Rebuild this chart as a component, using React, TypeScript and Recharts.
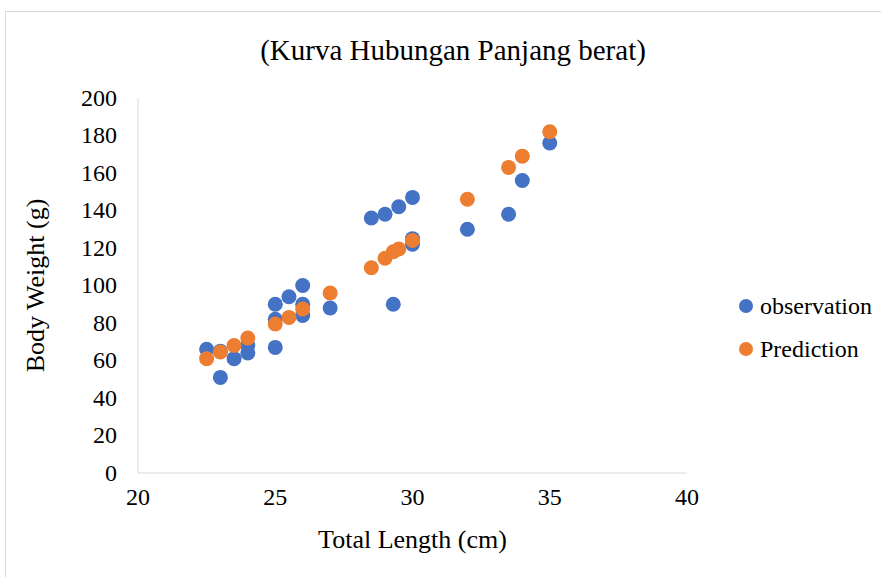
import React from 'react';
import { ScatterChart, Scatter, XAxis, YAxis } from 'recharts';

const obsLength = [22.5, 23, 23, 23.5, 24, 24, 25, 25, 25, 25.5, 26, 26, 26, 27, 28.5, 29, 29.5, 30, 30, 30, 29.3, 32, 33.5, 34, 35];
const obsWeight = [66, 65, 51, 61, 64, 68, 90, 82, 67, 94, 100, 90, 84, 88, 136, 138, 142, 147, 122, 125, 90, 130, 138, 156, 176];

const predLength = [22.5, 23, 23.5, 24, 25, 25.5, 26, 27, 28.5, 29, 29.3, 29.5, 30, 32, 33.5, 34, 35];
const predWeight = [61, 64.5, 68, 72, 79.5, 83, 87.5, 96, 109.5, 114.5, 118, 119.5, 124, 146, 163, 169, 182];

const xTicks = [20, 25, 30, 35, 40];
const yTicks = [0, 20, 40, 60, 80, 100, 120, 140, 160, 180, 200];

const seriesNames = ['observation', 'Prediction'];

const observation = obsLength.map((x, i) => ({ x, y: obsWeight[i] }));
const prediction = predLength.map((x, i) => ({ x, y: predWeight[i] }));

const FONT = '"Liberation Serif", "Times New Roman", serif';
const BLUE = '#4472C4';
const ORANGE = '#ED7D31';
const colors = [BLUE, ORANGE];

const Dot = (props: any) => {
  const { cx, cy, fill } = props;
  return <circle cx={cx} cy={cy} r={7.5} fill={fill} />;
};

const XTick = (props: any) => {
  const { x, y, payload } = props;
  return (
    <text x={x} y={y} dy="0.8em" textAnchor="middle" fill="#000" fontSize={24} fontFamily={FONT}>
      {payload.value}
    </text>
  );
};

const YTick = (props: any) => {
  const { x, y, payload } = props;
  return (
    <text x={x} y={y} dy="0.33em" textAnchor="end" fill="#000" fontSize={24} fontFamily={FONT}>
      {payload.value}
    </text>
  );
};

export default function App() {
  return (
    <div style={{ position: 'absolute', left: 0, top: 0, width: 881, height: 577, overflow: 'hidden', background: '#fff', fontFamily: FONT }}>
      <div style={{ position: 'absolute', left: 5, top: 11, width: 1000, height: 1000, border: '1px solid #d9d9d9' }} />
      <div style={{ position: 'absolute', left: 0, top: 34, width: 906, textAlign: 'center', fontSize: 29, lineHeight: '32px', color: '#000', fontFamily: FONT }}>
        (Kurva Hubungan Panjang berat)
      </div>
      <div style={{ position: 'absolute', left: 0, top: 0 }}>
        <ScatterChart width={881} height={577} margin={{ top: 98, right: 194, bottom: 0, left: 0 }} style={{ fontFamily: FONT }}>
          <XAxis
            type="number"
            dataKey="x"
            domain={[20, 40]}
            ticks={xTicks}
            interval={0}
            height={104}
            tickSize={0}
            tickMargin={13}
            stroke="#d9d9d9"
            tick={<XTick />}
            label={{ value: 'Total Length (cm)', position: 'insideBottom', offset: 29, fill: '#000', fontSize: 26, fontFamily: FONT }}
          />
          <YAxis
            type="number"
            dataKey="y"
            domain={[0, 200]}
            ticks={yTicks}
            interval={0}
            width={138}
            tickSize={0}
            tickMargin={21}
            stroke="#d9d9d9"
            tick={<YTick />}
            label={(p: any) => {
              const vb = p.viewBox || { x: 0, y: 98, width: 138, height: 375 };
              const cy = vb.y + vb.height / 2;
              return (
                <text x={35} y={cy} transform={`rotate(-90, 35, ${cy})`} textAnchor="middle" dominantBaseline="central" fill="#000" fontSize={26} fontFamily={FONT}>
                  Body Weight (g)
                </text>
              );
            }}
          />
          <Scatter name={seriesNames[0]} data={observation} fill={BLUE} shape={<Dot />} isAnimationActive={false} />
          <Scatter name={seriesNames[1]} data={prediction} fill={ORANGE} shape={<Dot />} isAnimationActive={false} />
        </ScatterChart>
      </div>
      {seriesNames.map((n, i) => (
        <div key={n} style={{ position: 'absolute', left: 739, top: 291 + i * 43, height: 30, display: 'flex', alignItems: 'center', fontSize: 24, color: '#000', fontFamily: FONT }}>
          <span style={{ display: 'inline-block', width: 14, height: 14, borderRadius: 7, background: colors[i], marginRight: 7 }} />
          <span>{n}</span>
        </div>
      ))}
    </div>
  );
}
